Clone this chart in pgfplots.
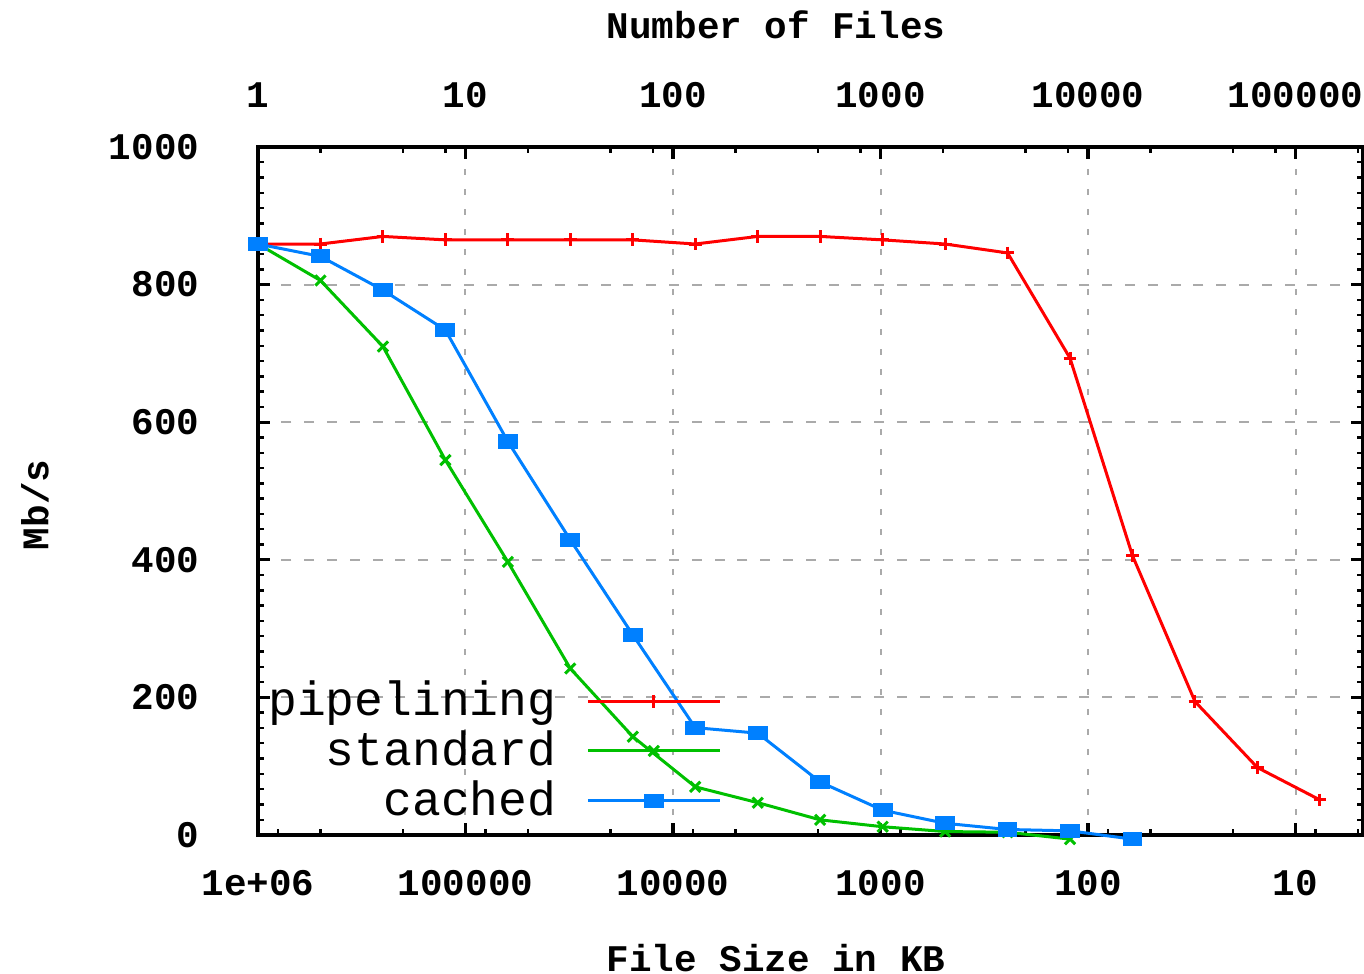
\documentclass[border=0pt]{standalone}
\usepackage{fontspec}
\setmainfont{Liberation Mono}
\usepackage{pgfplots}
\pgfplotsset{compat=1.18}

\definecolor{gpred}{RGB}{255,0,0}
\definecolor{gpgreen}{RGB}{0,192,0}
\definecolor{gpblue}{RGB}{0,128,255}
\definecolor{gridgray}{RGB}{170,170,170}

\newcommand{\tickfont}{\fontsize{9.4}{10}\selectfont\bfseries}

% file size halves at every step: 1e6/2^k KB
\pgfplotstableread{
size      rate
1000000   859
500000    859
250000    870
125000    865
62500     865
31250     865
15625     865
7812.5    859
3906.25   870
1953.125  870
976.5625  865
488.28125 859
244.140625 846
122.0703125 693
61.03515625 406
30.517578125 194
15.2587890625 98
7.62939453125 51
}\pipelining

\pgfplotstableread{
size      rate
1000000   859
500000    806
250000    710
125000    545
62500     397
31250     242
15625     143
7812.5    70
3906.25   47
1953.125  22
976.5625  12
488.28125 5
244.140625 4
122.0703125 -6
}\standard

\pgfplotstableread{
size      rate
1000000   859
500000    841
250000    792
125000    734
62500     572
31250     429
15625     291
7812.5    156
3906.25   148
1953.125  77
976.5625  36
488.28125 17
244.140625 8
122.0703125 6
61.03515625 -6
}\cached

\pgfplotsset{
  gp/.style={
    width=276.25pt, height=172pt, scale only axis,
    ymin=0, ymax=1000,
    axis line style={line width=1pt},
    major tick length=3pt, minor tick length=1.5pt,
    major tick style={line width=0.8pt, black},
    minor tick style={line width=0.6pt, black},
    tick label style={font=\tickfont},
    /pgf/number format/assume math mode=true,
    /pgf/number format/set thousands separator={},
    label style={font=\tickfont},
  }
}

\begin{document}
\begin{tikzpicture}
\begin{axis}[
  gp,
  xmode=log, x dir=reverse, xmin=4.73, xmax=1e6,
  xtick={1e6,1e5,1e4,1e3,100,10},
  xticklabels={1e+06,100000,10000,1000,100,10},
  minor xtick={8e5,5e5,2e5,8e4,5e4,2e4,8e3,5e3,2e3,800,500,200,80,50,20,8,5},
  xtick pos=left,
  xticklabel style={anchor=center, yshift=-12pt},
  ytick={0,200,...,1000}, minor y tick num=8, ytick pos=both,
  yticklabel style={anchor=east, inner sep=0pt, xshift=-14.5pt},
  grid=major,
  major x grid style={gridgray, line width=0.5pt, dash pattern=on 1.5pt off 3.5pt},
  major y grid style={gridgray, line width=0.5pt, dash pattern=on 2.5pt off 3.2pt},
  xlabel={File Size in KB},
  xlabel style={at={(axis description cs:0.4688,-0.1788)}, anchor=center},
  ylabel={Mb/s},
  ylabel style={at={(axis description cs:-0.2018,0.4797)}, anchor=center},
  clip=false,
  legend plot pos=right,
  legend cell align=right,
  legend image code/.code={\draw[mark repeat=2,mark phase=2] plot coordinates {(0pt,0pt) (16.5pt,0pt) (33pt,0pt)};},
  legend style={at={(axis description cs:0.42,0.0074)}, anchor=south east,
    draw=none, fill=none, inner sep=0pt, row sep=-1.75pt, column sep=5.5pt,
    font=\fontsize{12}{12}\selectfont},
]
\addplot[gpred, line width=0.75pt, mark=+, mark size=1.6pt] table[x=size, y=rate] {\pipelining};
\addlegendentry{pipelining}
\addplot[gpgreen, line width=0.75pt, mark=x, mark size=1.8pt] table[x=size, y=rate] {\standard};
\addlegendentry{standard}
\addplot[gpblue, line width=0.75pt, mark=square*, mark size=1.4pt, mark options={xscale=1.5}] table[x=size, y=rate] {\cached};
\addlegendentry{cached}
\end{axis}

\begin{axis}[
  gp,
  xmode=log, xmin=1, xmax=211416,
  axis x line*=top, axis y line=none,
  xtick={1,10,100,1000,10000,100000},
  xticklabels={1,10,100,1000,10000,100000},
  minor xtick={2,5,8,20,50,80,200,500,800,2000,5000,8000,20000,50000,80000,200000},
  xticklabel style={anchor=center, yshift=13pt},
  xlabel={Number of Files},
  xlabel style={at={(axis description cs:0.4688,1.1773)}, anchor=center},
]
\end{axis}

\pgfresetboundingbox
\path (-64.5pt,-34.75pt) rectangle (276.5pt,208.75pt);
\end{tikzpicture}
\end{document}
